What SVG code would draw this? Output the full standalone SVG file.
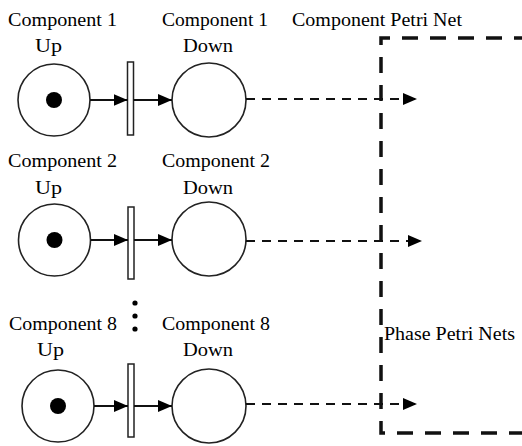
<svg xmlns="http://www.w3.org/2000/svg" width="522" height="446" viewBox="0 0 522 446">
<style>
text{font-family:"Liberation Serif","Times New Roman",serif;font-size:18px;fill:#000}
.place{fill:#fff;stroke:#222;stroke-width:1.6}
.token{fill:#000}
.trans{fill:#fff;stroke:#222;stroke-width:1.5}
.arc{stroke:#111;stroke-width:2;fill:none}
.dash{stroke:#111;stroke-width:2;fill:none;stroke-dasharray:9 7}
.box{stroke:#111;stroke-width:3.5;fill:none;stroke-dasharray:16 12}
</style>
<defs>
<marker id="ah" markerUnits="userSpaceOnUse" markerWidth="14" markerHeight="12" refX="14" refY="6" orient="auto">
<path d="M0,0 L14,6 L0,12 z" fill="#000"/>
</marker>
</defs>
<g id="phase-box"><path class="box" d="M530,38 H381 V433 H530"/></g>
<g id="labels-top">
<text x="292" y="26" textLength="170" lengthAdjust="spacingAndGlyphs">Component Petri Net</text>
<text x="384" y="340" textLength="131" lengthAdjust="spacingAndGlyphs">Phase Petri Nets</text>
</g>
<g id="c1-up"><circle class="place" cx="54" cy="100" r="36"/><circle class="token" cx="54" cy="100" r="8"/>
<text x="8" y="26" textLength="109" lengthAdjust="spacingAndGlyphs">Component 1</text>
<text x="35" y="52" textLength="27" lengthAdjust="spacingAndGlyphs">Up</text></g>
<g id="c1-t"><rect class="trans" x="127.5" y="62" width="6" height="73"/></g>
<g id="c1-down"><circle class="place" cx="209" cy="100" r="37"/>
<text x="162" y="26" textLength="106" lengthAdjust="spacingAndGlyphs">Component 1</text>
<text x="183" y="52" textLength="50" lengthAdjust="spacingAndGlyphs">Down</text></g>
<g id="c2-up"><circle class="place" cx="54.5" cy="240" r="36"/><circle class="token" cx="54.5" cy="240" r="8"/>
<text x="8" y="167" textLength="109" lengthAdjust="spacingAndGlyphs">Component 2</text>
<text x="35" y="194" textLength="27" lengthAdjust="spacingAndGlyphs">Up</text></g>
<g id="c2-t"><rect class="trans" x="128" y="207" width="6" height="72"/></g>
<g id="c2-down"><circle class="place" cx="209" cy="239" r="37"/>
<text x="162" y="167" textLength="108" lengthAdjust="spacingAndGlyphs">Component 2</text>
<text x="183" y="194" textLength="50" lengthAdjust="spacingAndGlyphs">Down</text></g>
<g id="ellipsis"><circle cx="135" cy="303" r="2.6" fill="#000"/><circle cx="135" cy="316" r="2.6" fill="#000"/><circle cx="135" cy="329" r="2.6" fill="#000"/></g>
<g id="c8-up"><circle class="place" cx="58" cy="406" r="36"/><circle class="token" cx="58" cy="406" r="8"/>
<text x="9" y="330" textLength="108" lengthAdjust="spacingAndGlyphs">Component 8</text>
<text x="37" y="356" textLength="27" lengthAdjust="spacingAndGlyphs">Up</text></g>
<g id="c8-t"><rect class="trans" x="128" y="364" width="6" height="73"/></g>
<g id="c8-down"><circle class="place" cx="209" cy="406" r="37"/>
<text x="162" y="330" textLength="108" lengthAdjust="spacingAndGlyphs">Component 8</text>
<text x="183" y="356" textLength="50" lengthAdjust="spacingAndGlyphs">Down</text></g>
<g id="connectors">
<path class="arc" d="M90,100 H127.5" marker-end="url(#ah)"/>
<path class="arc" d="M133.5,100 H172" marker-end="url(#ah)"/>
<path class="dash" d="M246,99 H417" marker-end="url(#ah)"/>
<path class="arc" d="M90.5,240 H128" marker-end="url(#ah)"/>
<path class="arc" d="M134,240 H172" marker-end="url(#ah)"/>
<path class="dash" d="M246,241 H422" marker-end="url(#ah)"/>
<path class="arc" d="M94,406 H128" marker-end="url(#ah)"/>
<path class="arc" d="M134,406 H172" marker-end="url(#ah)"/>
<path class="dash" d="M246,404 H417" marker-end="url(#ah)"/>
</g>
</svg>
